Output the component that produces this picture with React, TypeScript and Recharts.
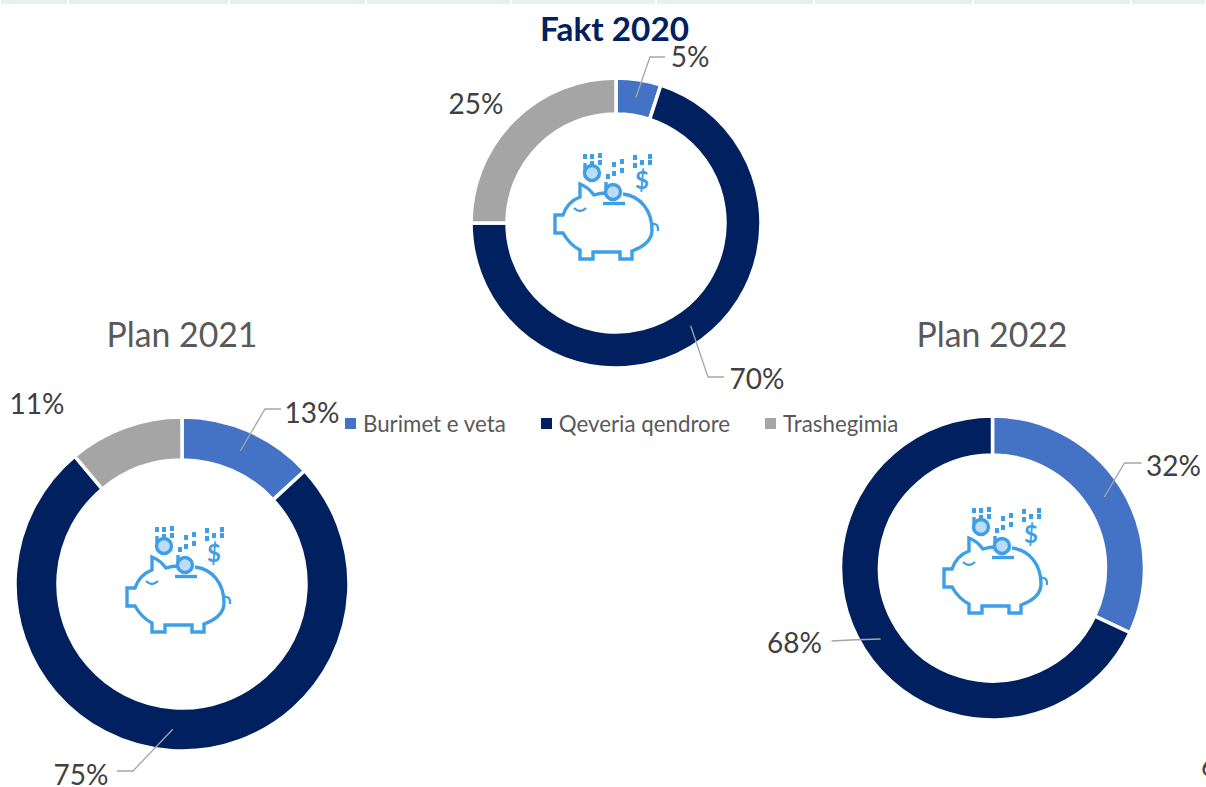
import React from 'react';
import { PieChart, Pie, Legend } from 'recharts';

const categories = ['Burimet e veta', 'Qeveria qendrore', 'Trashegimia'];
const colors = ['#4472C4', '#002060', '#A5A5A5'];
const fakt2020 = [5, 70, 25];
const plan2021 = [13, 75, 11];
const plan2022 = [32, 68];

const FONT = 'Lato, "Open Sans", sans-serif';
const topStrip = [0, 68, 229, 366, 511, 656, 814, 973, 1131, 1206];

const toRows = (values: number[]) =>
  values.map((value, i) => ({ name: categories[i], value, fill: colors[i] }));

// label box centre + elbow, relative to each ring's centre. null = no leader line
type Spot = { x: number; y: number; elbow?: [number, number]; end?: [number, number] };

const spots2020: Spot[] = [
  { x: 74, y: -167, elbow: [34, -166], end: [49, -166] },
  { x: 141, y: 155, elbow: [92, 154], end: [108, 154] },
  { x: -140, y: -120 },
];
const spots2021: Spot[] = [
  { x: 130, y: -172, elbow: [83, -175], end: [99, -175] },
  { x: -101, y: 190, elbow: [-49, 187], end: [-65, 187] },
  { x: -145, y: -181 },
];
const spots2022: Spot[] = [
  { x: 181, y: -103, elbow: [132, -105], end: [149, -105] },
  { x: -198, y: 74, elbow: [-142, 72], end: [-161, 73] },
];

const ringLabel = (spots: Spot[]) => (props: any) => {
  const { cx, cy, midAngle, innerRadius, outerRadius, index, value } = props;
  const s = spots[index];
  const r = (innerRadius + outerRadius) / 2;
  const rad = (-midAngle * Math.PI) / 180;
  const sx = cx + r * Math.cos(rad);
  const sy = cy + r * Math.sin(rad);
  return (
    <g key={index}>
      {s.elbow && s.end && (
        <polyline
          points={`${sx},${sy} ${cx + s.elbow[0]},${cy + s.elbow[1]} ${cx + s.end[0]},${cy + s.end[1]}`}
          fill="none"
          stroke="#A6A6A6"
          strokeWidth={1.3}
        />
      )}
      <text
        x={cx + s.x}
        y={cy + s.y}
        textAnchor="middle"
        dominantBaseline="central"
        fontFamily={FONT}
        fontSize={28}
        fill="#404040"
      >
        {value}%
      </text>
    </g>
  );
};

const drops = [
  [53, 24], [60, 24], [68, 23], [60, 31], [68, 30], [76, 44], [82, 32], [90, 29], [82, 41],
  [90, 38], [103, 25], [118, 24], [103, 33], [110, 30], [118, 30],
];

const PiggyIcon = ({ x, y }: { x: number; y: number }) => (
  <g transform={`translate(${x},${y})`} fill="none" stroke="#3F9FE6" strokeWidth={3.4}>
    <path d="M93 64 C110 66 122 80 122 100 C122 110 113 117 102 121 V129 H90 V122 H63 V129 H50 V120 C42 116 37 110 33 103 H25 V85 H33 C36 76 42 70 50 67 L50 54 Q58 57 64 65 Q70 63 76 63" />
    <path d="M44 78 Q50 84 56 78" strokeWidth={2.4} />
    <path d="M122 94 Q129 93 128 101" strokeWidth={2.4} />
    <path d="M73 73.5 H95" />
    <path d="M76 52 V62" />
    <path d="M55 33 V43" />
    <circle cx={83} cy={62} r={7.5} fill="#BDDCFB" />
    <circle cx={62} cy={43} r={7.5} fill="#BDDCFB" />
    {drops.map(([dx, dy], i) => (
      <rect key={i} x={dx} y={dy} width={4} height={5} fill="#3F9FE6" stroke="none" />
    ))}
    <text x={112} y={59} textAnchor="middle" fontFamily={FONT} fontWeight={700} fontSize={24} fill="#3F9FE6" stroke="none">
      $
    </text>
  </g>
);

const LegendRow = () => (
  <div style={{ display: 'flex', fontFamily: FONT, fontSize: 22.3, color: '#595959', whiteSpace: 'nowrap' }}>
    {categories.map((name, i) => (
      <span key={name} style={{ display: 'flex', alignItems: 'center', marginRight: 35 }}>
        <span style={{ width: 11, height: 11, background: colors[i], marginRight: 7 }} />
        {name}
      </span>
    ))}
  </div>
);

const ringProps = {
  dataKey: 'value',
  startAngle: 90,
  endAngle: -270,
  stroke: '#FFFFFF',
  strokeWidth: 3.5,
  labelLine: false,
  isAnimationActive: false,
  legendType: 'none' as const,
};

export default function App() {
  return (
    <div style={{ position: 'absolute', left: 0, top: 0, width: 1206, height: 787, background: '#fff', overflow: 'hidden' }}>
      {topStrip.slice(0, -1).map((x, i) => (
        <div
          key={x}
          style={{ position: 'absolute', top: 0, left: x + 1, width: topStrip[i + 1] - x - 2, height: 4, background: '#E6F1EE' }}
        />
      ))}
      <PieChart width={1206} height={787} margin={{ top: 0, right: 0, bottom: 0, left: 0 }}>
        <Pie {...ringProps} data={toRows(fakt2020)} cx={616} cy={223} innerRadius={109} outerRadius={145} label={ringLabel(spots2020)} />
        <Pie {...ringProps} data={toRows(plan2021)} cx={182} cy={584} innerRadius={124} outerRadius={167} label={ringLabel(spots2021)} />
        <Pie {...ringProps} data={toRows(plan2022)} cx={992.5} cy={568} innerRadius={113} outerRadius={152} label={ringLabel(spots2022)} />
        <text x={614.5} y={41} textAnchor="middle" fontFamily={FONT} fontWeight={700} fontSize={33.3} fill="#002060">Fakt 2020</text>
        <text x={182} y={347} textAnchor="middle" fontFamily={FONT} fontSize={33.8} fill="#595959">Plan 2021</text>
        <text x={992} y={347} textAnchor="middle" fontFamily={FONT} fontSize={33.8} fill="#595959">Plan 2022</text>
        <text x={1201} y={776} fontFamily={FONT} fontSize={27} fill="#404040">6</text>
        <PiggyIcon x={530} y={130} />
        <PiggyIcon x={102} y={503} />
        <PiggyIcon x={919} y={484} />
        <Legend
          layout="horizontal"
          verticalAlign="middle"
          content={<LegendRow />}
          wrapperStyle={{ position: 'absolute', left: 345, top: 410, width: 700 }}
        />
      </PieChart>
    </div>
  );
}
